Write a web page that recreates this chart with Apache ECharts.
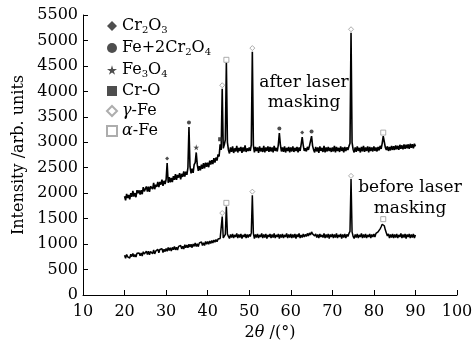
<!DOCTYPE html>
<html>
<head>
<meta charset="utf-8">
<script src="https://cdn.jsdelivr.net/npm/echarts@6/dist/echarts.min.js"></script>
<style>
  html, body { margin: 0; padding: 0; background: #fff; }
  #chart { width: 474px; height: 346px; }
</style>
</head>
<body>
<div id="chart"></div>
<script>
const FONT = 'DejaVu Serif';

// scan: 2theta from 20 to 90 deg, step 0.25
const scanStart = 20;
const scanStep = 0.25;

// intensity after laser masking, one row per 5 deg
const afterIntensity = [
    1940,1858,1986,1905,1963,1881,1999,1927,2046,1934,2002,1920,2058,1997,2055,1973,2061,1979,2118,2036,
    2034,2132,2030,2129,2027,2135,2163,2081,2200,2078,2166,2124,2222,2121,2219,2167,2265,2143,2242,2180,
    2268,2590,2204,2313,2211,2299,2217,2335,2264,2372,2260,2358,2306,2395,2273,2381,2319,2427,2326,2424,
    2360,2500,3300,2520,2390,2480,2400,2560,2600,2800,2560,2440,2530,2450,2560,2480,2590,2490,2600,2520,
    2600,2510,2640,2560,2650,2570,2690,2600,2700,2640,2760,2720,2960,2850,4050,2880,2950,3050,4560,3000,
    2850,2780,2900,2810,2920,2790,2880,2820,2930,2800,2890,2830,2910,2790,2900,2820,2940,2810,2880,2830,
    2900,2830,2950,4780,2940,2800,2910,2830,2900,2790,2920,2820,2890,2810,2930,2800,2900,2830,2920,2810,
    2910,2820,2900,2800,2930,2830,2890,2820,2950,3180,2950,2820,2900,2810,2920,2800,2890,2830,2910,2800,
    2900,2820,2920,2810,2890,2830,2910,2800,2900,2830,2960,3100,2940,2830,2880,2820,2910,2850,2930,2960,
    3120,2930,2850,2800,2910,2820,2900,2790,2920,2830,2890,2810,2930,2800,2900,2820,2910,2830,2890,2810,
    2900,2820,2930,2800,2910,2830,2890,2810,2920,2830,2900,2800,2910,2830,2900,2850,2920,2980,5150,3000,
    2860,2800,2900,2810,2920,2830,2890,2800,2910,2820,2930,2810,2900,2830,2920,2800,2910,2830,2900,2820,
    2920,2830,2900,2820,2910,2840,2930,2870,2980,3120,3010,2900,2850,2920,2830,2910,2840,2930,2850,2920,
    2850,2940,2860,2930,2850,2950,2870,2940,2860,2960,2870,2950,2880,2960,2870,2970,2890,2960,2880,2970,
    2920
];

// intensity before laser masking
const beforeIntensity = [
    780,723,797,750,784,727,800,754,817,750,794,747,821,784,827,771,824,767,851,804,
    798,861,794,858,791,854,868,811,885,808,861,835,898,831,895,858,912,835,898,852,
    915,859,932,875,929,862,935,889,952,886,939,882,956,919,972,906,959,903,986,929,
    983,926,999,943,996,930,1003,956,1020,953,1006,950,1023,987,1040,973,1027,970,1053,997,
    1050,995,1060,1010,1070,1020,1080,1035,1090,1045,1100,1070,1110,1130,1540,1120,1150,1190,1740,1200,
    1150,1110,1190,1130,1200,1120,1180,1140,1210,1120,1190,1130,1200,1110,1180,1140,1200,1120,1190,1130,
    1190,1150,1220,1960,1210,1110,1190,1130,1200,1120,1180,1140,1210,1120,1190,1130,1200,1110,1180,1140,
    1200,1120,1190,1130,1210,1120,1180,1140,1200,1110,1190,1130,1200,1120,1180,1140,1210,1120,1190,1130,
    1200,1120,1190,1130,1200,1110,1190,1140,1210,1120,1180,1130,1200,1140,1190,1150,1210,1160,1220,1180,
    1240,1200,1230,1160,1200,1130,1190,1120,1200,1140,1180,1130,1210,1120,1190,1130,1200,1110,1190,1140,
    1200,1120,1190,1130,1210,1120,1180,1140,1200,1110,1190,1130,1200,1120,1190,1150,1210,1250,2280,1240,
    1150,1110,1190,1130,1200,1120,1180,1140,1210,1120,1190,1130,1200,1120,1180,1140,1200,1120,1190,1140,
    1200,1140,1210,1180,1240,1260,1300,1340,1390,1420,1360,1280,1220,1160,1200,1120,1190,1130,1200,1120,
    1190,1130,1200,1120,1180,1140,1210,1120,1190,1130,1200,1110,1190,1140,1200,1120,1190,1130,1200,1120,
    1180
];

// phase markers above the peaks [2theta, intensity]
const cr2o3Peaks = [[30.25, 2680], [62.75, 3190]];
const feCr2o4Peaks = [[35.5, 3390], [57.25, 3270], [65, 3210]];
const fe3o4Peaks = [[37.25, 2900]];
const crOPeaks = [[43, 3060]];
const gammaFePeaks = [[43.5, 4120], [50.75, 4850], [74.5, 5220], [43.5, 1610], [50.75, 2030], [74.5, 2340]];
const alphaFePeaks = [[44.5, 4620], [82.25, 3190], [44.5, 1810], [82.25, 1490]];

const phaseNames = ['Cr2O3', 'Fe+2Cr2O4', 'Fe3O4', 'Cr-O', 'γ-Fe', 'α-Fe'];
const legendLabels = {
    'Cr2O3': '{n|Cr}{s|2}{n|O}{s|3}',
    'Fe+2Cr2O4': '{n|Fe+2Cr}{s|2}{n|O}{s|4}',
    'Fe3O4': '{n|Fe}{s|3}{n|O}{s|4}',
    'Cr-O': '{n|Cr-O}',
    'γ-Fe': '{i|γ}{n|-Fe}',
    'α-Fe': '{i|α}{n|-Fe}'
};

const STAR = 'path://M50,0 L61,35 L98,35 L68,57 L79,91 L50,70 L21,91 L32,57 L2,35 L39,35 Z';

function toPoints(values) {
    return values.map(function (v, i) { return [scanStart + i * scanStep, v]; });
}

function marker(name, data, symbol, size, filled) {
    return {
        name: name,
        type: 'scatter',
        data: data,
        symbol: symbol,
        symbolSize: size,
        itemStyle: filled
            ? { color: '#222' }
            : { color: '#fff', borderColor: '#999', borderWidth: 1 },
        z: 5
    };
}

const axisLine = { show: true, lineStyle: { color: '#000', width: 1 } };
const axisTick = { show: true, inside: true, length: 5, lineStyle: { color: '#000' } };

const chart = echarts.init(document.getElementById('chart'));

chart.setOption({
    animation: false,
    grid: { left: 83, right: 17, top: 15, bottom: 51, containLabel: false, outerBoundsMode: 'none' },
    legend: {
        data: phaseNames,
        orient: 'vertical',
        left: 101,
        top: 12,
        itemWidth: 10,
        itemHeight: 10,
        itemGap: 4,
        formatter: function (name) { return legendLabels[name]; },
        textStyle: {
            color: '#000',
            rich: {
                n: { fontFamily: FONT, fontSize: 16, color: '#000', lineHeight: 18 },
                s: { fontFamily: FONT, fontSize: 10, color: '#000', lineHeight: 10, padding: [8, 0, 0, 0] },
                i: { fontFamily: FONT, fontSize: 16, fontStyle: 'italic', color: '#000', lineHeight: 18 }
            }
        }
    },
    xAxis: {
        type: 'value',
        min: 10,
        max: 100,
        interval: 10,
        axisLine: axisLine,
        axisTick: axisTick,
        splitLine: { show: false },
        axisLabel: { color: '#000', fontFamily: FONT, fontSize: 16, margin: 9 },
        name: '{n|2}{i|θ}{n| /(°)}',
        nameLocation: 'middle',
        nameGap: 29,
        nameTextStyle: {
            rich: {
                n: { fontFamily: FONT, fontSize: 16, color: '#000' },
                i: { fontFamily: FONT, fontSize: 16, fontStyle: 'italic', color: '#000' }
            }
        }
    },
    yAxis: {
        type: 'value',
        min: 0,
        max: 5500,
        interval: 500,
        axisLine: axisLine,
        axisTick: axisTick,
        splitLine: { show: false },
        axisLabel: {
            color: '#000', fontFamily: FONT, fontSize: 16, margin: 5,
            formatter: function (v) { return String(v); }
        },
        name: 'Intensity /arb. units',
        nameLocation: 'middle',
        nameGap: 56,
        nameTextStyle: { color: '#000', fontFamily: FONT, fontSize: 16 }
    },
    graphic: [
        {
            type: 'text', x: 304, y: 73,
            style: { text: 'after laser\nmasking', fill: '#000', font: '17px "DejaVu Serif"', lineHeight: 20, align: 'center' }
        },
        {
            type: 'text', x: 410, y: 177,
            style: { text: 'before laser\nmasking', fill: '#000', font: '17px "DejaVu Serif"', lineHeight: 21, align: 'center' }
        }
    ],
    series: [
        {
            name: 'after', type: 'line', data: toPoints(afterIntensity), showSymbol: false,
            lineStyle: { color: '#000', width: 1.6 }, z: 3
        },
        {
            name: 'before', type: 'line', data: toPoints(beforeIntensity), showSymbol: false,
            lineStyle: { color: '#000', width: 1.5 }, z: 3
        },
        marker('Cr2O3', cr2o3Peaks, 'diamond', 4, true),
        marker('Fe+2Cr2O4', feCr2o4Peaks, 'circle', 4, true),
        marker('Fe3O4', fe3o4Peaks, STAR, 6, true),
        marker('Cr-O', crOPeaks, 'rect', 4, true),
        marker('γ-Fe', gammaFePeaks, 'diamond', 5, false),
        marker('α-Fe', alphaFePeaks, 'rect', 5, false)
    ]
});
</script>
</body>
</html>
